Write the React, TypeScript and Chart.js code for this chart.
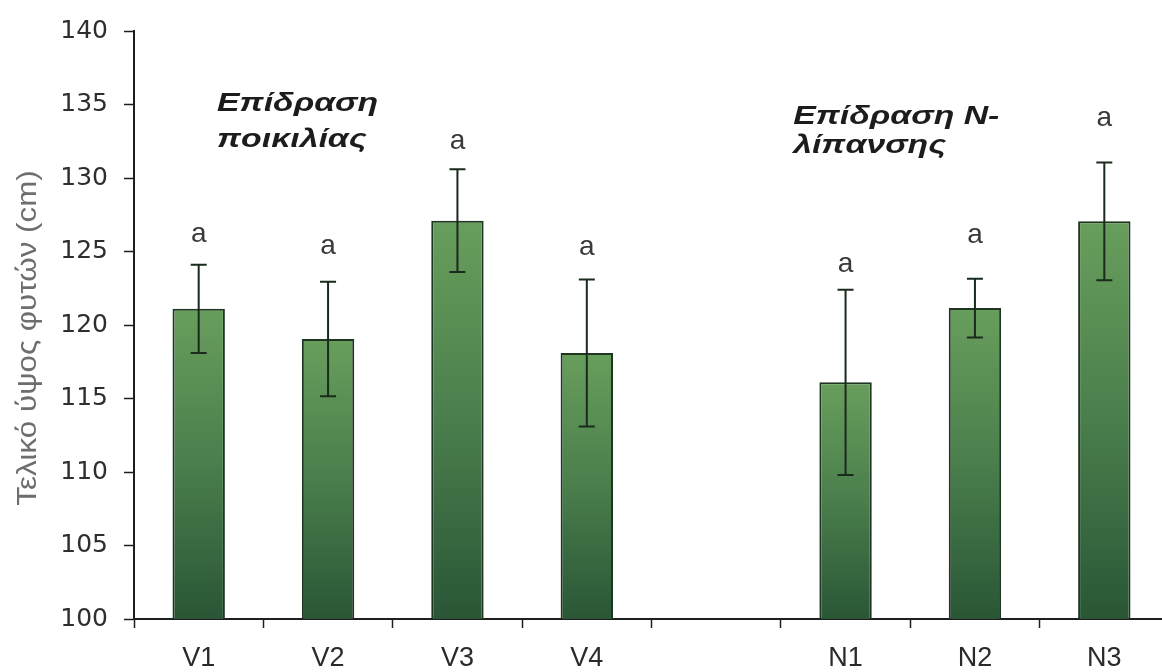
import React, { useEffect, useRef } from 'react';
import { Chart, registerables } from 'chart.js';

Chart.register(...registerables);

// Treatments: four varieties, a spacer slot, three nitrogen levels
const categories = ['V1', 'V2', 'V3', 'V4', '', 'N1', 'N2', 'N3'];
// Mean final plant height (cm)
const heights = [121.1, 119.05, 127.1, 118.1, null, 116.1, 121.15, 127.05];
// Standard error of each mean (cm)
const errors = [3.0, 3.9, 3.5, 5.0, null, 6.3, 2.0, 4.0];
// Significance letters and the height (cm) each one sits at
const letters = ['a', 'a', 'a', 'a', '', 'a', 'a', 'a'];
const letterHeights = [126.14, 125.36, 132.47, 125.27, null, 124.07, 126.1, 134.05];

// Y axis range and step
const yMin = 100;
const yMax = 140;
const yStep = 5;

const yTitle = 'Τελικό ύψος φυτών (cm)';

// Group headings: text lines, category anchor and baseline heights (cm)
const noteLines = [
  ['Επίδραση', 'ποικιλίας'],
  ['Επίδραση N-', 'λίπανσης'],
];
const noteAnchors = [0.142, 4.595];
const noteBaselines = [
  [134.58, 132.14],
  [133.69, 131.73],
];

const AXIS = '#1e1e1e';
const BAR_TOP = 'rgb(104,158,92)';
const BAR_MID = 'rgb(74,126,76)';
const BAR_BOTTOM = 'rgb(42,86,54)';

const extrasPlugin = {
  id: 'extras',
  afterDatasetsDraw(chart: any) {
    const { ctx } = chart;
    const x = chart.scales.x;
    const y = chart.scales.y;
    const meta = chart.getDatasetMeta(0);

    // error bars
    ctx.save();
    ctx.strokeStyle = '#1a2a1c';
    ctx.lineWidth = 2;
    meta.data.forEach((bar: any, i: number) => {
      const v = heights[i];
      const e = errors[i];
      if (v == null || e == null) return;
      const hi = y.getPixelForValue(v + e);
      const lo = y.getPixelForValue(v - e);
      const cap = 8;
      ctx.beginPath();
      ctx.moveTo(bar.x, hi);
      ctx.lineTo(bar.x, lo);
      ctx.moveTo(bar.x - cap, hi);
      ctx.lineTo(bar.x + cap, hi);
      ctx.moveTo(bar.x - cap, lo);
      ctx.lineTo(bar.x + cap, lo);
      ctx.stroke();
    });
    ctx.restore();

    // significance letters
    ctx.save();
    ctx.fillStyle = '#3a3a3a';
    ctx.font = '28px "Liberation Sans", Arial, sans-serif';
    ctx.textAlign = 'center';
    ctx.textBaseline = 'alphabetic';
    meta.data.forEach((bar: any, i: number) => {
      const h = letterHeights[i];
      if (h == null || !letters[i]) return;
      ctx.fillText(letters[i], bar.x, y.getPixelForValue(h) + 7.3);
    });
    ctx.restore();

    // group headings, bold italic and drawn a little wide
    ctx.save();
    ctx.fillStyle = '#1c1c1c';
    ctx.font = 'italic bold 26px "Liberation Sans", Arial, sans-serif';
    ctx.textAlign = 'left';
    ctx.textBaseline = 'alphabetic';
    const stretch = 1.3;
    noteLines.forEach((lines, n) => {
      const px = x.getPixelForValue(noteAnchors[n]);
      lines.forEach((line, k) => {
        const py = y.getPixelForValue(noteBaselines[n][k]);
        ctx.save();
        ctx.translate(px, py);
        ctx.scale(stretch, 1);
        ctx.fillText(line, 0, 0);
        ctx.restore();
      });
    });
    ctx.restore();

    // rotated y axis title
    ctx.save();
    ctx.fillStyle = '#6e6e6e';
    ctx.font = '28px "Liberation Sans", Arial, sans-serif';
    ctx.textAlign = 'center';
    ctx.textBaseline = 'middle';
    const area = chart.chartArea;
    ctx.translate(28, (area.top + area.bottom) / 2 + 13);
    ctx.rotate(-Math.PI / 2);
    ctx.scale(1.12, 1);
    ctx.fillText(yTitle, 0, 0);
    ctx.restore();
  },
};

export default function App() {
  const ref = useRef<HTMLCanvasElement | null>(null);

  useEffect(() => {
    const canvas = ref.current;
    if (!canvas) return;
    const chart = new Chart(canvas, {
      type: 'bar',
      data: {
        labels: categories,
        datasets: [
          {
            data: heights as any,
            backgroundColor: (c: any) => {
              const ch = c.chart;
              const ys = ch.scales && ch.scales.y;
              const v = heights[c.dataIndex];
              if (!ys || !ch.chartArea || v == null) return BAR_MID;
              const top = ys.getPixelForValue(v);
              const bottom = ys.getPixelForValue(yMin);
              const g = ch.ctx.createLinearGradient(0, top, 0, bottom);
              g.addColorStop(0, BAR_TOP);
              g.addColorStop(0.5, BAR_MID);
              g.addColorStop(1, BAR_BOTTOM);
              return g;
            },
            borderColor: '#1d3521',
            borderWidth: 2,
            borderSkipped: false,
            categoryPercentage: 1,
            barPercentage: 0.405,
          },
        ],
      },
      options: {
        responsive: false,
        animation: false,
        devicePixelRatio: 1,
        layout: { padding: { left: 0, top: 29, right: 11, bottom: 0 } },
        plugins: {
          legend: { display: false },
          tooltip: { enabled: false },
        },
        scales: {
          x: {
            grid: {
              display: true,
              drawOnChartArea: false,
              drawTicks: true,
              tickLength: 9,
              tickColor: AXIS,
              tickWidth: 1.5,
              offset: true,
            },
            border: { display: true, color: AXIS, width: 2 },
            ticks: {
              color: '#2a2a2a',
              padding: 14,
              font: { family: '"Liberation Sans", Arial, sans-serif', size: 27 },
            },
            afterFit: (s: any) => {
              s.height = 53;
            },
          },
          y: {
            min: yMin,
            max: yMax,
            grid: {
              display: true,
              drawOnChartArea: false,
              drawTicks: true,
              tickLength: 10,
              tickColor: AXIS,
              tickWidth: 1.5,
            },
            border: { display: true, color: AXIS, width: 2 },
            ticks: {
              stepSize: yStep,
              color: '#2e2e2e',
              padding: 16,
              font: { family: '"DejaVu Sans", sans-serif', size: 25 },
            },
            afterFit: (s: any) => {
              s.width = 134;
            },
          },
        },
      },
      plugins: [extrasPlugin],
    });
    return () => chart.destroy();
  }, []);

  return (
    <div
      style={{
        position: 'fixed',
        left: 0,
        top: 0,
        width: 1162,
        height: 672,
        overflow: 'hidden',
        background: '#ffffff',
      }}
    >
      <canvas ref={ref} width={1180} height={672} />
    </div>
  );
}
